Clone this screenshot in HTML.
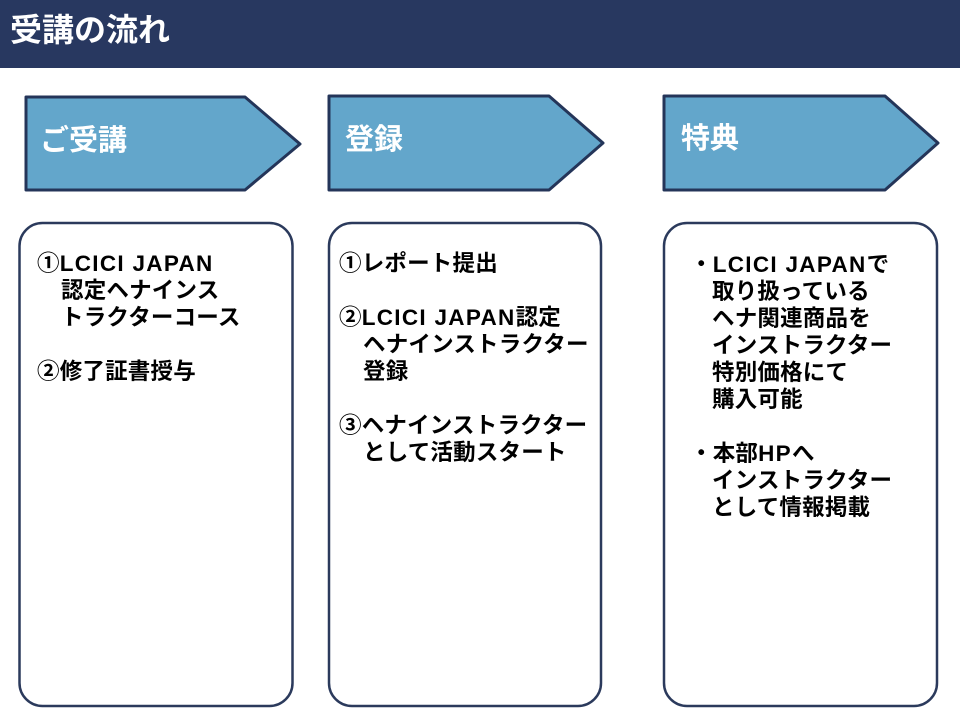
<!DOCTYPE html>
<html>
<head>
<meta charset="utf-8">
<style>
  html, body { margin:0; padding:0; background:#fff; }
  body { width:960px; height:720px; position:relative; overflow:hidden;
         font-family:"Liberation Sans","Noto Sans CJK JP",sans-serif; }
  svg { position:absolute; left:0; top:0; }
  .t { position:absolute; white-space:nowrap; font-weight:bold; }
  .title { left:10px; top:0; height:60px; line-height:60px; font-size:32px; color:#fff; }
  .lab { font-size:29px; color:#fff; line-height:40px; height:40px; }
  .body { font-size:22.5px; line-height:27px; color:#000; letter-spacing:0.2px; }
  .ind { padding-left:24px; }
  .row { height:27px; }
  .l { letter-spacing:1.3px; }
</style>
</head>
<body>
<svg width="960" height="720" viewBox="0 0 960 720">
  <rect x="0" y="0" width="960" height="68" fill="#283860"/>
  <polygon points="26,97 245,97 300,144 245,190 26,190" fill="#63a6cb" stroke="#243559" stroke-width="3" stroke-linejoin="round"/>
  <polygon points="329,96 549,96 603,143 549,190 329,190" fill="#63a6cb" stroke="#243559" stroke-width="3" stroke-linejoin="round"/>
  <polygon points="664,96 885,96 938,143 885,190 664,190" fill="#63a6cb" stroke="#243559" stroke-width="3" stroke-linejoin="round"/>
  <rect x="19.5" y="223" width="273" height="483" rx="23" ry="23" fill="#fff" stroke="#2b3a5c" stroke-width="2.5"/>
  <rect x="329" y="223" width="272" height="483" rx="23" ry="23" fill="#fff" stroke="#2b3a5c" stroke-width="2.5"/>
  <rect x="664" y="223" width="273" height="483" rx="23" ry="23" fill="#fff" stroke="#2b3a5c" stroke-width="2.5"/>
</svg>

<div class="t title">受講の流れ</div>

<div class="t lab" style="left:40px; top:121px;">ご受講</div>
<div class="t lab" style="left:345px; top:120px;">登録</div>
<div class="t lab" style="left:681px; top:119px;">特典</div>

<div class="t body" style="left:37px; top:250px;">
  <div class="row">①<span class="l">LCICI JAPAN</span></div>
  <div class="row ind">認定ヘナインス</div>
  <div class="row ind">トラクターコース</div>
  <div class="row"></div>
  <div class="row">②修了証書授与</div>
</div>

<div class="t body" style="left:339px; top:250px;">
  <div class="row">①レポート提出</div>
  <div class="row"></div>
  <div class="row">②<span class="l">LCICI JAPAN</span>認定</div>
  <div class="row ind">ヘナインストラクター</div>
  <div class="row ind">登録</div>
  <div class="row"></div>
  <div class="row">③ヘナインストラクター</div>
  <div class="row ind">として活動スタート</div>
</div>

<div class="t body" style="left:690px; top:251px;">
  <div class="row">・<span class="l">LCICI JAPAN</span>で</div>
  <div class="row ind" style="padding-left:22px;">取り扱っている</div>
  <div class="row ind" style="padding-left:22px;">ヘナ関連商品を</div>
  <div class="row ind" style="padding-left:22px;">インストラクター</div>
  <div class="row ind" style="padding-left:22px;">特別価格にて</div>
  <div class="row ind" style="padding-left:22px;">購入可能</div>
  <div class="row"></div>
  <div class="row">・本部<span class="l">HP</span>へ</div>
  <div class="row ind" style="padding-left:22px;">インストラクター</div>
  <div class="row ind" style="padding-left:22px;">として情報掲載</div>
</div>
</body>
</html>
